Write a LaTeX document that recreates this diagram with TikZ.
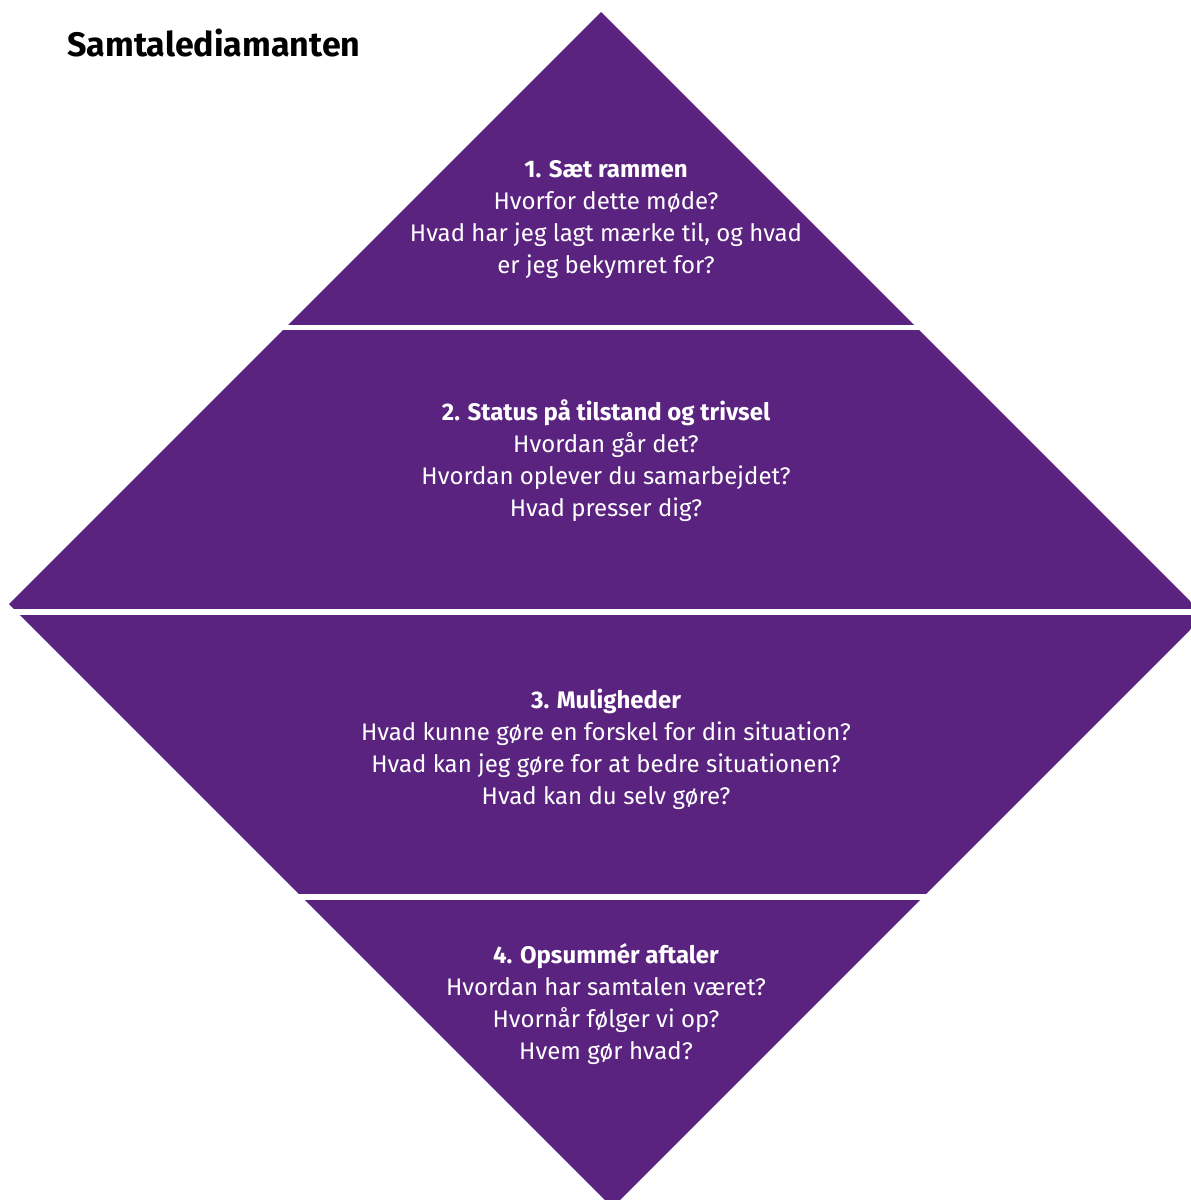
\documentclass[tikz,border=0pt]{standalone}
\usepackage{fontspec}
\setmainfont{Fira Sans}
\definecolor{diamant}{RGB}{91,35,128}
\tikzset{
  bandtext/.style={text=white, align=center, anchor=base, inner sep=0pt,
    font=\fontsize{12}{16}\selectfont},
  titletext/.style={anchor=base west, inner sep=0pt,
    font=\fontsize{17}{20}\selectfont\bfseries},
}
\begin{document}
\begin{tikzpicture}[x=0.5pt,y=-0.5pt]
  \useasboundingbox (0,0) rectangle (1190,1200);
  % diamond, cut into four bands
  \begin{scope}
    \clip (601,12) -- (1204.5,615.5) -- (612.5,1207.5) -- (9,604) -- cycle;
    \fill[diamant] (0,12) rectangle (1220,325);
    \fill[diamant] (0,330) rectangle (1220,609);
    \fill[diamant] (0,615) rectangle (1220,894);
    \fill[diamant] (0,900) rectangle (1220,1210);
  \end{scope}
  \node[titletext] (title) at (67,56) {Samtalediamanten};
  % base anchor sits on the last line
  \node[bandtext] (band1) at (606,273) {\textbf{1. Sæt rammen}\\
    Hvorfor dette møde?\\
    Hvad har jeg lagt mærke til, og hvad\\
    er jeg bekymret for?};
  \node[bandtext] (band2) at (606,516) {\textbf{2. Status på tilstand og trivsel}\\
    Hvordan går det?\\
    Hvordan oplever du samarbejdet?\\
    Hvad presser dig?};
  \node[bandtext] (band3) at (606,804) {\textbf{3. Muligheder}\\
    Hvad kunne gøre en forskel for din situation?\\
    Hvad kan jeg gøre for at bedre situationen?\\
    Hvad kan du selv gøre?};
  \node[bandtext] (band4) at (606,1059) {\textbf{4. Opsummér aftaler}\\
    Hvordan har samtalen været?\\
    Hvornår følger vi op?\\
    Hvem gør hvad?};
\end{tikzpicture}
\end{document}
